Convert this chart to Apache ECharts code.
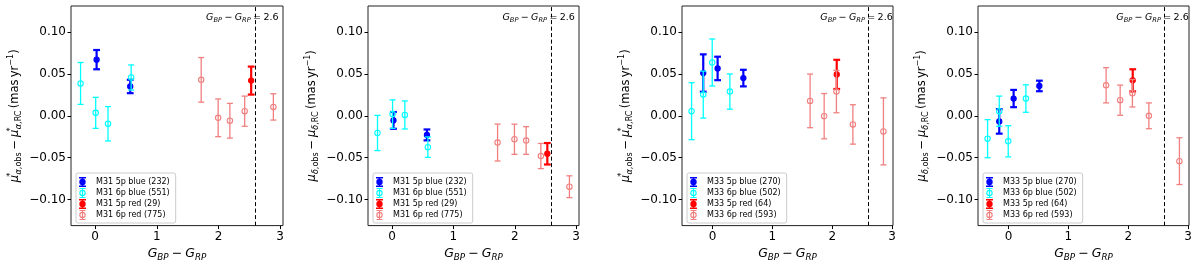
<!DOCTYPE html>
<html><head><meta charset="utf-8">
<script src="https://cdn.jsdelivr.net/npm/echarts@6/dist/echarts.min.js"></script>
<style>html,body{margin:0;padding:0;background:#fff}#c{width:1200px;height:267px}</style>
</head><body><div id="c"></div>
<script>
// ---------------- data ----------------
const xTicks = [0, 1, 2, 3];
const yTicks = [-0.10, -0.05, 0.00, 0.05, 0.10];
const colourCut = 2.6;

const m31Names = ['M31 5p blue (232)', 'M31 6p blue (551)', 'M31 5p red (29)', 'M31 6p red (775)'];
const m33Names = ['M33 5p blue (270)', 'M33 6p blue (502)', 'M33 5p red (64)', 'M33 6p red (593)'];

// M31: colour (G_BP - G_RP) bins
const m31Blue5X = [0.025, 0.57];
const m31Blue6X = [-0.235, 0.01, 0.21, 0.585];
const m31Red5X  = [2.53];
const m31Red6X  = [1.72, 1.995, 2.185, 2.425, 2.89];
// M31: mu_alpha* offsets and errors
const m31Blue5Ra = [0.067, 0.035];            const m31Blue5RaErr = [0.0115, 0.0080];
const m31Blue6Ra = [0.0386, 0.0035, -0.0095, 0.0457]; const m31Blue6RaErr = [0.025, 0.0185, 0.0205, 0.015];
const m31Red5Ra  = [0.042];                   const m31Red5RaErr  = [0.0167];
const m31Red6Ra  = [0.0429, -0.0024, -0.0059, 0.0055, 0.0106]; const m31Red6RaErr = [0.0266, 0.0225, 0.0207, 0.018, 0.0157];
// M31: mu_delta offsets and errors
const m31Blue5Dec = [-0.0055, -0.0228];       const m31Blue5DecErr = [0.0100, 0.0065];
const m31Blue6Dec = [-0.0205, 0.002, 0.001, -0.0374]; const m31Blue6DecErr = [0.021, 0.017, 0.0167, 0.0122];
const m31Red5Dec  = [-0.0453];                const m31Red5DecErr  = [0.0128];
const m31Red6Dec  = [-0.0319, -0.028, -0.0295, -0.048, -0.0846]; const m31Red6DecErr = [0.022, 0.018, 0.0165, 0.015, 0.013];

// M33: colour bins
const m33Blue5X = [-0.155, 0.085, 0.515];
const m33Blue6X = [-0.35, -0.155, -0.005, 0.29];
const m33Red5X  = [2.075];
const m33Red6X  = [1.63, 1.865, 2.07, 2.345, 2.855];
// M33: mu_alpha*
const m33Blue5Ra = [0.051, 0.0565, 0.045];    const m33Blue5RaErr = [0.0223, 0.014, 0.0099];
const m33Blue6Ra = [0.0055, 0.0253, 0.0636, 0.0289]; const m33Blue6RaErr = [0.034, 0.028, 0.028, 0.021];
const m33Red5Ra  = [0.0494];                  const m33Red5RaErr  = [0.0174];
const m33Red6Ra  = [0.0178, -0.0004, 0.0289, -0.0103, -0.0186]; const m33Red6RaErr = [0.032, 0.027, 0.0253, 0.0235, 0.040];
// M33: mu_delta
const m33Blue5Dec = [-0.0067, 0.0206, 0.0356]; const m33Blue5DecErr = [0.0146, 0.0103, 0.0063];
const m33Blue6Dec = [-0.0273, 0.0055, -0.0304, 0.0206]; const m33Blue6DecErr = [0.0227, 0.018, 0.0186, 0.0164];
const m33Red5Dec  = [0.0423];                 const m33Red5DecErr  = [0.0132];
const m33Red6Dec  = [0.0364, 0.0186, 0.0269, 0.0, -0.0541]; const m33Red6DecErr = [0.021, 0.018, 0.0164, 0.0154, 0.0279];

// ---------------- chart ----------------
const FONT = 'DejaVu Sans';
const zip = (xs, ys, es) => xs.map((x, i) => [x, ys[i], es[i]]);

const panels = [
  { names: m31Names, kind: 'ra', xr: [-0.39, 3.046],
    groups: [zip(m31Blue5X, m31Blue5Ra, m31Blue5RaErr), zip(m31Blue6X, m31Blue6Ra, m31Blue6RaErr),
             zip(m31Red5X, m31Red5Ra, m31Red5RaErr), zip(m31Red6X, m31Red6Ra, m31Red6RaErr)] },
  { names: m31Names, kind: 'dec', xr: [-0.39, 3.046],
    groups: [zip(m31Blue5X, m31Blue5Dec, m31Blue5DecErr), zip(m31Blue6X, m31Blue6Dec, m31Blue6DecErr),
             zip(m31Red5X, m31Red5Dec, m31Red5DecErr), zip(m31Red6X, m31Red6Dec, m31Red6DecErr)] },
  { names: m33Names, kind: 'ra', xr: [-0.51, 3.015],
    groups: [zip(m33Blue5X, m33Blue5Ra, m33Blue5RaErr), zip(m33Blue6X, m33Blue6Ra, m33Blue6RaErr),
             zip(m33Red5X, m33Red5Ra, m33Red5RaErr), zip(m33Red6X, m33Red6Ra, m33Red6RaErr)] },
  { names: m33Names, kind: 'dec', xr: [-0.51, 3.015],
    groups: [zip(m33Blue5X, m33Blue5Dec, m33Blue5DecErr), zip(m33Blue6X, m33Blue6Dec, m33Blue6DecErr),
             zip(m33Red5X, m33Red5Dec, m33Red5DecErr), zip(m33Red6X, m33Red6Dec, m33Red6DecErr)] }
];

const gridBoxes = [
  { left: 71, top: 6, width: 212, height: 223 },
  { left: 368, top: 6, width: 211, height: 223 },
  { left: 682, top: 6, width: 211, height: 223 },
  { left: 978, top: 6, width: 211, height: 223 }
];

const groupStyles = [
  { color: '#0000ff', filled: true,  lw: 2.2, cap: 3.4, r: 2.6 },
  { color: '#00ffff', filled: false, lw: 1.3, cap: 3.0, r: 2.7 },
  { color: '#ff0000', filled: true,  lw: 2.2, cap: 3.4, r: 2.6 },
  { color: '#f08080', filled: false, lw: 1.3, cap: 3.0, r: 2.7 }
];

const iconFilled = 'path://M0 0H7V1.4H0ZM0 8.6H7V10H0ZM2.7 0H4.3V10H2.7ZM0.3 5A3.2 3.2 0 1 1 6.7 5A3.2 3.2 0 1 1 0.3 5Z';
const iconOpen = 'path://M0.5 0H6.5V1.1H0.5ZM0.5 8.9H6.5V10H0.5ZM2.9 0H4.1V10H2.9ZM0.3 5A3.2 3.2 0 1 1 6.7 5A3.2 3.2 0 1 1 0.3 5ZM1.4 5A2.1 2.1 0 1 0 5.6 5A2.1 2.1 0 1 0 1.4 5Z';

function errRender(st) {
  return function (params, api) {
    const x = api.value(0), y = api.value(1), e = api.value(2);
    const c = api.coord([x, y]);
    const t = api.coord([x, y + e]);
    const b = api.coord([x, y - e]);
    const ls = { stroke: st.color, lineWidth: st.lw };
    return { type: 'group', children: [
      { type: 'line', shape: { x1: c[0], y1: t[1], x2: c[0], y2: b[1] }, style: ls },
      { type: 'line', shape: { x1: c[0] - st.cap, y1: t[1], x2: c[0] + st.cap, y2: t[1] }, style: ls },
      { type: 'line', shape: { x1: c[0] - st.cap, y1: b[1], x2: c[0] + st.cap, y2: b[1] }, style: ls },
      { type: 'circle', shape: { cx: c[0], cy: c[1], r: st.r },
        style: { fill: st.filled ? st.color : 'none', stroke: st.color, lineWidth: 1.1 } }
    ]};
  };
}

function mathRich(size, lh) {
  const s = size * 0.7;
  return {
    it: { fontFamily: FONT, fontStyle: 'italic', fontSize: size, lineHeight: lh, color: '#000' },
    rm: { fontFamily: FONT, fontSize: size, lineHeight: lh, color: '#000' },
    si: { fontFamily: FONT, fontStyle: 'italic', fontSize: s, lineHeight: s, verticalAlign: 'bottom', color: '#000' },
    sr: { fontFamily: FONT, fontSize: s, lineHeight: s, verticalAlign: 'bottom', color: '#000' },
    sp: { fontFamily: FONT, fontSize: s, lineHeight: s, verticalAlign: 'top', color: '#000' },
    st: { fontFamily: FONT, fontSize: s, lineHeight: s, verticalAlign: 'top', width: 0.5, color: '#000' }
  };
}

const SP = '\u2005';   // medium math space
const TH = '\u2009';   // thin space
const yNameRa = '{it|μ}{st|*}{si|α}{sr|,obs}{rm|' + SP + '−' + SP + '}{it|μ}{st|*}{si|α}{sr|,RC}{rm|' + TH + '(mas' + TH + 'yr}{sp|−1}{rm|)}';
const yNameDec = '{it|μ}{si|δ}{sr|,obs}{rm|' + SP + '−' + SP + '}{it|μ}{si|δ}{sr|,RC}{rm|' + TH + '(mas' + TH + 'yr}{sp|−1}{rm|)}';
const xName = '{it|G}{si|BP}{rm|' + SP + '−' + SP + '}{it|G}{si|RP}';
const cutLabel = '{it|G}{si|BP}{rm|' + SP + '−' + SP + '}{it|G}{si|RP}{rm|' + SP + '=' + SP + colourCut + '}';

const fmtY = v => { const s = Math.abs(v).toFixed(2); return v < -1e-9 ? '−' + s : s; };

const option = { animation: false, backgroundColor: '#fff', grid: [], xAxis: [], yAxis: [], legend: [], series: [] };

panels.forEach((p, pi) => {
  const g = gridBoxes[pi];
  option.grid.push(Object.assign({ show: true, borderColor: '#222', borderWidth: 1, backgroundColor: 'transparent', containLabel: false }, g));
  option.xAxis.push({
    type: 'value', gridIndex: pi, min: p.xr[0], max: p.xr[1], position: 'bottom',
    axisLine: { show: false, onZero: false }, splitLine: { show: false },
    axisTick: { show: true, length: 3.5, customValues: xTicks, lineStyle: { color: '#000', width: 1 } },
    axisLabel: { customValues: xTicks, margin: 5, fontFamily: FONT, fontSize: 12, color: '#000', formatter: v => String(v) },
    name: xName, nameLocation: 'middle', nameGap: 19,
    nameTextStyle: { rich: mathRich(12.5, 16) }
  });
  option.yAxis.push({
    type: 'value', gridIndex: pi, min: -0.131, max: 0.131, position: 'left',
    axisLine: { show: false, onZero: false }, splitLine: { show: false },
    axisTick: { show: true, length: 3.5, customValues: yTicks, lineStyle: { color: '#000', width: 1 } },
    axisLabel: { customValues: yTicks, margin: 5, fontFamily: FONT, fontSize: 12, color: '#000', formatter: fmtY },
    name: p.kind === 'ra' ? yNameRa : yNameDec, nameLocation: 'middle', nameGap: 48, nameRotate: 90,
    nameTextStyle: { rich: mathRich(11.5, 16) }
  });
  option.legend.push({
    orient: 'vertical', left: g.left + 5, top: 173, selectedMode: false,
    itemWidth: 17, itemHeight: 10, itemGap: 1, padding: [4, 6, 3, 3],
    backgroundColor: 'rgba(255,255,255,0.8)', borderColor: '#cccccc', borderWidth: 1, borderRadius: 2,
    symbolKeepAspect: true,
    textStyle: { fontFamily: FONT, fontSize: 8, color: '#000' },
    data: p.names.map((n, i) => ({ name: n, icon: groupStyles[i].filled ? iconFilled : iconOpen,
      itemStyle: { color: groupStyles[i].color, borderWidth: 0 } }))
  });
  p.groups.forEach((data, gi) => {
    const st = groupStyles[gi];
    const s = {
      type: 'custom', name: p.names[gi], xAxisIndex: pi, yAxisIndex: pi,
      itemStyle: { color: st.color }, data: data, encode: { x: 0, y: 1 },
      renderItem: errRender(st), silent: true
    };
    if (gi === 3) {
      s.markLine = { silent: true, symbol: ['none', 'none'], label: { show: false },
        lineStyle: { color: '#000', type: [4, 2.5], width: 1 }, data: [{ xAxis: colourCut }] };
      s.markPoint = { silent: true, symbol: 'circle', symbolSize: 0,
        itemStyle: { color: 'transparent' },
        data: [{ coord: [1.8, 0.117] }],
        label: { show: true, position: 'right', distance: 0, formatter: cutLabel, rich: mathRich(9.5, 12) } };
    }
    option.series.push(s);
  });
});

const chart = echarts.init(document.getElementById('c'), null, { renderer: 'canvas' });
chart.setOption(option);
</script>
</body></html>
